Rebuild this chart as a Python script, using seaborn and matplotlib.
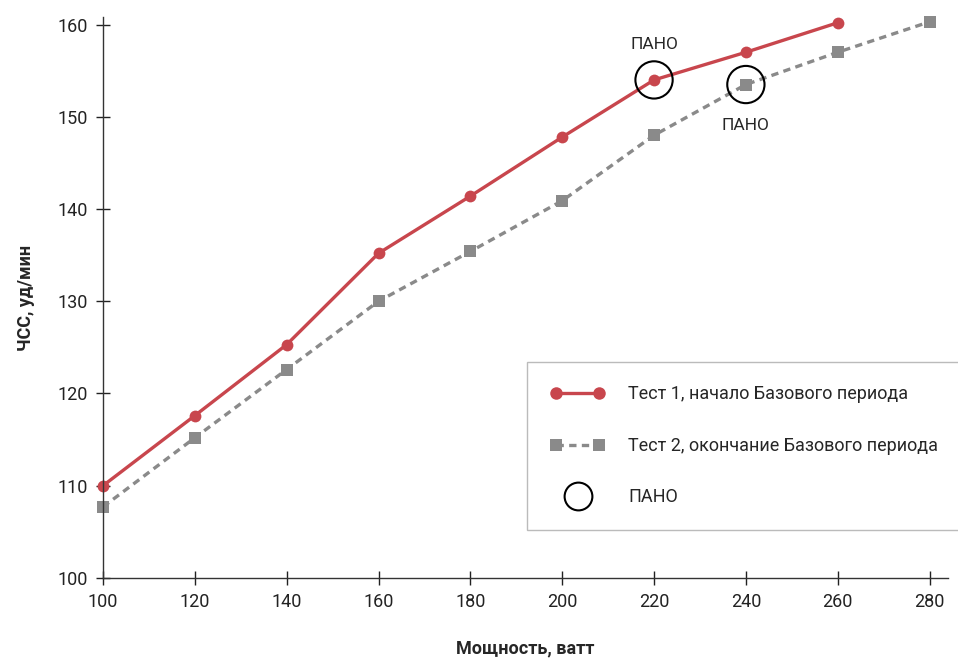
import numpy as np
import pandas as pd
import seaborn as sns
import matplotlib.pyplot as plt
from matplotlib.lines import Line2D
from matplotlib.legend_handler import HandlerLine2D

# power (watts) and heart rate readings
watts_1 = [100, 120, 140, 160, 180, 200, 220, 240, 260]
hr_1 = [110.0, 117.6, 125.3, 135.2, 141.4, 147.8, 154.0, 157.0, 160.2]
watts_2 = [100, 120, 140, 160, 180, 200, 220, 240, 260, 280]
hr_2 = [107.7, 115.2, 122.6, 130.0, 135.4, 140.9, 148.0, 153.5, 157.0, 160.3]

# threshold points (ПАНО)
pano_watts = [220, 240]
pano_hr = [154.0, 153.5]
pano_text_y = [157.8, 149.1]

xticks = [100, 120, 140, 160, 180, 200, 220, 240, 260, 280]
yticks = [100, 110, 120, 130, 140, 150, 160]

label_1 = 'Тест 1, начало Базового периода'
label_2 = 'Тест 2, окончание Базового периода'

red = '#c8464d'
grey = '#8a8a8a'

sns.set_style('white')
plt.rcParams['font.family'] = ['Roboto', 'DejaVu Sans']

fig = plt.figure(figsize=(9.58, 6.62), dpi=100)
ax = fig.add_axes([0.1075, 0.127, 0.882, 0.847])

df1 = pd.DataFrame({'w': watts_1, 'hr': hr_1})
df2 = pd.DataFrame({'w': watts_2, 'hr': hr_2})

sns.lineplot(data=df2, x='w', y='hr', ax=ax, color=grey, lw=2.4,
             marker='s', markersize=9, markeredgewidth=0,
             dashes=False, linestyle=(0, (2.2, 1.6)), clip_on=False)
sns.lineplot(data=df1, x='w', y='hr', ax=ax, color=red, lw=2.4,
             marker='o', markersize=8.5, markeredgewidth=0, clip_on=False)

sns.scatterplot(x=pano_watts, y=pano_hr, ax=ax, marker='o', s=720,
                facecolor='none', edgecolor='black', linewidth=1.5,
                clip_on=False, zorder=5)
for x, y in zip(pano_watts, pano_text_y):
    ax.text(x, y, 'ПАНО', ha='center', va='center', fontsize=12.5)

ax.set_xlim(100, 284)
ax.set_ylim(100, 160.8)
ax.set_xticks(xticks)
ax.set_yticks(yticks)
ax.tick_params(direction='inout', length=10, width=1, labelsize=13,
               colors='#222222', bottom=True, left=True)
ax.tick_params(axis='x', pad=6)
ax.tick_params(axis='y', pad=6)
sns.despine(ax=ax)
for s in ['left', 'bottom']:
    ax.spines[s].set_color('#333333')
    ax.spines[s].set_linewidth(1)

ax.set_xlabel('Мощность, ватт', fontsize=13, fontweight='bold', labelpad=20)
ax.set_ylabel('ЧСС, уд/мин', fontsize=13, fontweight='bold', labelpad=16)

h_red = Line2D([], [], color=red, lw=2.4, marker='o', markersize=9, markeredgewidth=0)
h_grey = Line2D([], [], color=grey, lw=2.4, linestyle=(0, (2.2, 1.6)), marker='s',
                markersize=9, markeredgewidth=0)
h_circ = Line2D([], [], color='none', marker='o', markersize=20, markerfacecolor='none',
                markeredgecolor='black', markeredgewidth=1.5)
leg = fig.legend([h_red, h_grey, h_circ], [label_1, label_2, 'ПАНО'], loc='upper left',
                 bbox_to_anchor=(527 / 958, 1 - 362 / 662), fontsize=13,
                 numpoints=2, handlelength=3.0, handletextpad=1.3,
                 labelspacing=1.85, borderpad=1.3, borderaxespad=0,
                 frameon=True, fancybox=False,
                 handler_map={h_circ: HandlerLine2D(numpoints=1)})
leg.get_frame().set_edgecolor('#aaaaaa')
leg.get_frame().set_linewidth(1)

fig.savefig('out.png', dpi=100)
